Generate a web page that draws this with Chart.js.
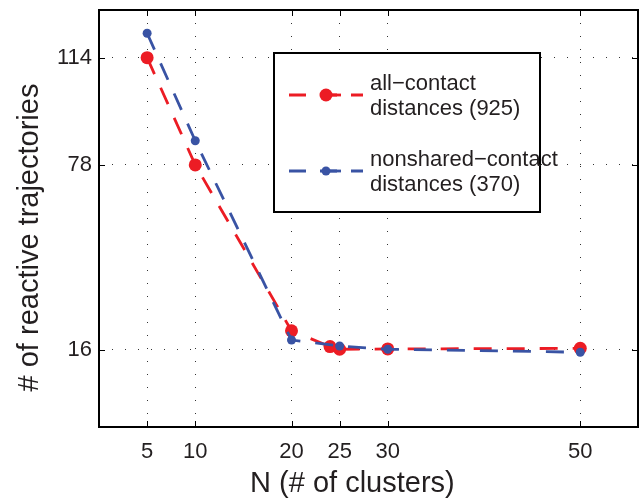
<!DOCTYPE html>
<html><head><meta charset="utf-8">
<script src="https://cdn.jsdelivr.net/npm/chart.js@4/dist/chart.umd.min.js"></script>
<style>html,body{margin:0;padding:0;background:#fff}#wrap{width:639px;height:499px}</style>
</head><body><div id="wrap"><canvas id="c" width="639" height="499" style="width:639px;height:499px"></canvas></div>
<script>
const xTicks = [5, 10, 20, 25, 30, 50];
const yTicks = [16, 78, 114];
const redX = [5, 10, 20, 24, 25, 30, 50];
const redY = [114, 78, 22.3, 17, 16.1, 16.2, 16.4];
const blueX = [5, 10, 20, 25, 30, 50];
const blueY = [122.2, 86.1, 19.2, 17.2, 16.1, 15.1];
const seriesLabels = [["all\u2212contact", "distances (925)"], ["nonshared\u2212contact", "distances (370)"]];
const xTitle = "N (# of clusters)";
const yTitle = "# of reactive trajectories";

const FONT = '"Liberation Sans", Arial, Helvetica, sans-serif';
const RED = '#ec1c24', BLUE = '#3953a4';

const frame = {
  id: 'frame',
  afterDatasetsDraw(chart) {
    const ctx = chart.ctx, a = chart.chartArea;
    const xs = chart.scales.x, ys = chart.scales.y;
    ctx.save();
    ctx.strokeStyle = '#000';
    ctx.lineWidth = 1;
    ctx.beginPath();
    xTicks.forEach(v => {
      const p = Math.round(xs.getPixelForValue(v)) + 0.5;
      ctx.moveTo(p, a.top); ctx.lineTo(p, a.top + 6);
      ctx.moveTo(p, a.bottom); ctx.lineTo(p, a.bottom - 6);
    });
    yTicks.forEach(v => {
      const p = Math.round(ys.getPixelForValue(v)) + 0.5;
      ctx.moveTo(a.left, p); ctx.lineTo(a.left + 6, p);
      ctx.moveTo(a.right, p); ctx.lineTo(a.right - 6, p);
    });
    ctx.stroke();
    ctx.lineWidth = 2;
    ctx.strokeRect(a.left, a.top, a.right - a.left, a.bottom - a.top);

    // legend
    const bx = a.left + 175, by = a.top + 43, bw = 266, bh = 159;
    ctx.fillStyle = '#fff';
    ctx.fillRect(bx, by, bw, bh);
    ctx.strokeRect(bx, by, bw, bh);
    const rows = [by + 42, by + 118];
    chart.data.datasets.forEach((ds, i) => {
      const cy = rows[i];
      ctx.save();
      ctx.strokeStyle = ds.borderColor;
      ctx.lineWidth = ds.borderWidth;
      ctx.setLineDash([17, 14]);
      ctx.beginPath();
      ctx.moveTo(bx + 15, cy); ctx.lineTo(bx + 89, cy);
      ctx.stroke();
      ctx.setLineDash([]);
      ctx.beginPath();
      ctx.moveTo(bx + 52, cy); ctx.lineTo(bx + 67, cy);
      ctx.stroke();
      ctx.fillStyle = ds.pointBackgroundColor;
      ctx.beginPath();
      ctx.arc(bx + 52, cy, ds.pointRadius, 0, Math.PI * 2);
      ctx.fill();
      ctx.restore();
      ctx.fillStyle = '#231f20';
      ctx.font = '22px ' + FONT;
      ctx.textAlign = 'left';
      ctx.textBaseline = 'alphabetic';
      ctx.fillText(seriesLabels[i][0], bx + 96, cy - 5);
      ctx.fillText(seriesLabels[i][1], bx + 96, cy + 20);
    });
    ctx.restore();
  }
};

new Chart(document.getElementById('c'), {
  type: 'line',
  data: {
    datasets: [
      {
        label: seriesLabels[0].join(' '),
        data: redX.map((x, i) => ({x, y: redY[i]})),
        borderColor: RED, backgroundColor: RED, pointBackgroundColor: RED,
        borderWidth: 2.8, borderDash: [18, 15], pointRadius: 6.5, pointBorderWidth: 0,
        pointHoverRadius: 6.5, tension: 0, fill: false, order: 2
      },
      {
        label: seriesLabels[1].join(' '),
        data: blueX.map((x, i) => ({x, y: blueY[i]})),
        borderColor: BLUE, backgroundColor: BLUE, pointBackgroundColor: BLUE,
        borderWidth: 2.8, borderDash: [18, 15], pointRadius: 4.5, pointBorderWidth: 0,
        pointHoverRadius: 4.5, tension: 0, fill: false, order: 1
      }
    ]
  },
  options: {
    responsive: false,
    animation: false,
    events: [],
    layout: { autoPadding: false, padding: { top: 10, right: 1, left: 0, bottom: 0 } },
    plugins: { legend: { display: false }, tooltip: { enabled: false } },
    scales: {
      x: {
        type: 'linear', min: 0, max: 56, position: 'bottom',
        afterBuildTicks: s => { s.ticks = xTicks.map(v => ({value: v})); },
        afterFit: s => { s.height = 72; s.paddingLeft = 0; s.paddingRight = 0; },
        grid: { color: '#333', lineWidth: 1, drawTicks: false },
        border: { display: false, dash: [1, 12] },
        ticks: { color: '#231f20', font: { family: FONT, size: 22 }, padding: 12, maxRotation: 0, autoSkip: false },
        title: { display: true, text: xTitle + '    ', color: '#231f20', font: { family: FONT, size: 29, lineHeight: 1 }, padding: { top: 0, bottom: 1 } }
      },
      y: {
        type: 'linear', min: -10, max: 130,
        afterBuildTicks: s => { s.ticks = yTicks.map(v => ({value: v})); },
        afterFit: s => { s.width = 99; s.paddingTop = 0; s.paddingBottom = 0; },
        grid: { color: '#333', lineWidth: 1, drawTicks: false },
        border: { display: false, dash: [1, 12] },
        ticks: { color: '#231f20', font: { family: FONT, size: 22 }, padding: 7, autoSkip: false },
        title: { display: true, text: yTitle + '    \u2009', color: '#231f20', font: { family: FONT, size: 29, lineHeight: 1 }, padding: { top: 15, bottom: 0 } }
      }
    }
  },
  plugins: [frame]
});
</script>
</body></html>
